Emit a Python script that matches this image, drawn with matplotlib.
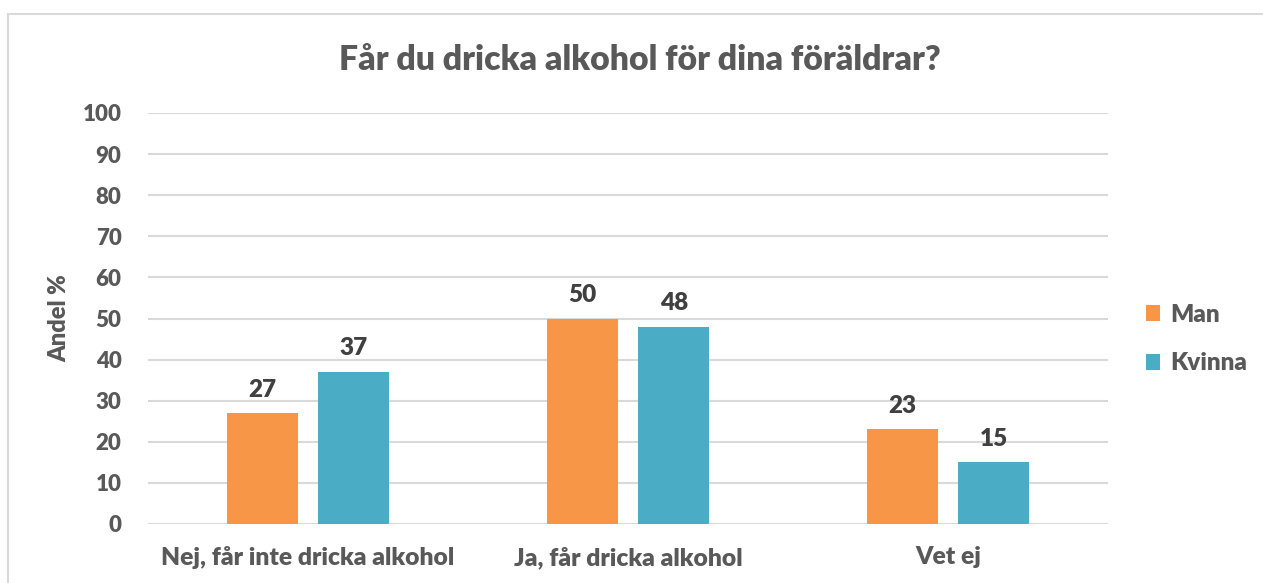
import matplotlib.pyplot as plt
import numpy as np
from matplotlib.patches import Rectangle

plt.rcParams['font.family'] = ['Lato', 'DejaVu Sans']
plt.rcParams['font.weight'] = 'heavy'

categories = ['Nej, får inte dricka alkohol', 'Ja, får dricka alkohol', 'Vet ej']
man = [27, 50, 23]
kvinna = [37, 48, 15]

orange = '#F79646'
blue = '#4BACC6'
text_gray = '#595959'
label_gray = '#404040'

fig = plt.figure(figsize=(12.63, 5.83), dpi=100)
ax = fig.add_axes([148 / 1263, 1 - 524 / 583, 960 / 1263, 411 / 583])

x = np.arange(len(categories))
w = 0.222
off = 0.143
b1 = ax.bar(x - off, man, w, color=orange, label='Man', zorder=3)
b2 = ax.bar(x + off, kvinna, w, color=blue, label='Kvinna', zorder=3)

for bars in (b1, b2):
    ax.bar_label(bars, padding=9, fontsize=17.5, color=label_gray, fontweight='heavy')

ax.set_xlim(-0.5, 2.5)
ax.set_ylim(0, 100)
ax.set_yticks(range(0, 101, 10))
ax.yaxis.grid(True, color='#D9D9D9', linewidth=1.5, zorder=0)
ax.set_axisbelow(True)
for s in ax.spines.values():
    s.set_visible(False)
ax.tick_params(axis='y', length=0, labelsize=16, colors=text_gray, pad=19)
ax.tick_params(axis='x', length=0, labelsize=17.7, colors=text_gray, pad=16)
ax.set_xticks(x)
ax.set_xticklabels(categories)
ax.set_ylabel('Andel %', fontsize=17, color=text_gray, fontweight='heavy')
ax.yaxis.set_label_coords(-78 / 960, 0.5)

fig.text(640 / 1263, 1 - 60 / 583, 'Får du dricka alkohol för dina föräldrar?',
         ha='center', va='center', fontsize=24.3, color=text_gray, fontweight='heavy')

leg = fig.legend(handles=[b1, b2], loc='upper left', bbox_to_anchor=(1136 / 1263, 1 - 294 / 583),
                 frameon=False, prop={'size': 17.5, 'weight': 'heavy'}, handlelength=0.6,
                 handleheight=0.6, handletextpad=0.4, labelspacing=1.1, borderaxespad=0)
for t in leg.get_texts():
    t.set_color(text_gray)

# outer chart frame
fig.add_artist(Rectangle((8 / 1263, -0.1), 1.2, 1 - 14 / 583 + 0.1, transform=fig.transFigure,
                         fill=False, edgecolor='#D9D9D9', linewidth=1.5))

fig.savefig('out.png', dpi=100)
